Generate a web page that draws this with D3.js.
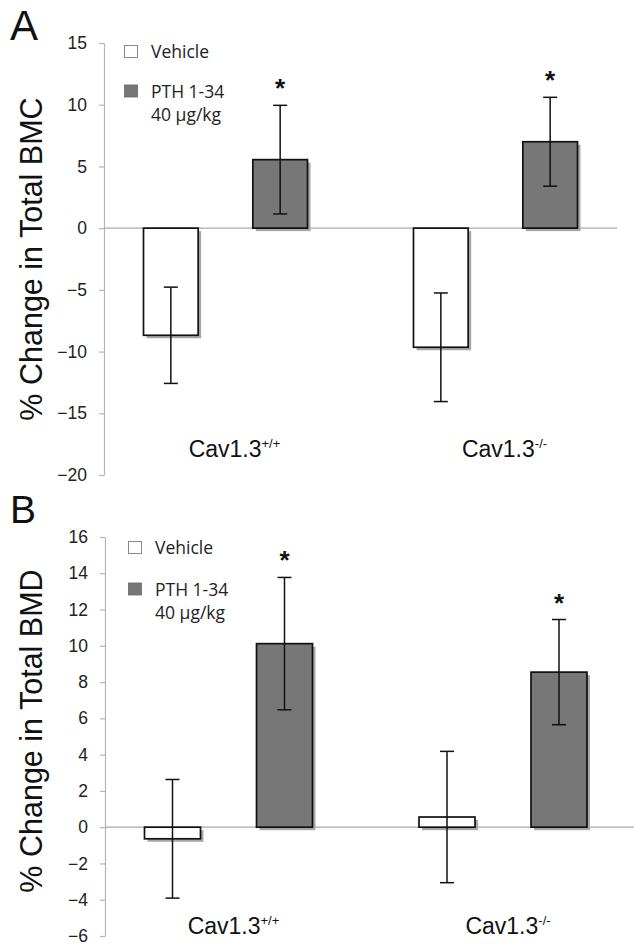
<!DOCTYPE html>
<html>
<head>
<meta charset="utf-8">
<script src="https://cdn.jsdelivr.net/npm/d3@7"></script>
<style>
  html, body { margin: 0; padding: 0; background: #fff; }
  svg { display: block; }
</style>
</head>
<body>
<div id="chart"></div>
<script>
// Groups and series
const groups = ['Cav1.3+/+', 'Cav1.3-/-'];
const groupBase = ['Cav1.3', 'Cav1.3'];
const groupSup = ['+/+', '-/-'];
const series = ['Vehicle', 'PTH'];

// Panel A: % change in total BMC
const bmcVehicle = [-8.68, -9.65];
const bmcVehicleErr = [3.9, 4.4];
const bmcPth = [5.55, 7.0];
const bmcPthErr = [4.4, 3.6];
const bmcTicks = [-20, -15, -10, -5, 0, 5, 10, 15];

// Panel B: % change in total BMD
const bmdVehicle = [-0.64, 0.56];
const bmdVehicleErr = [3.27, 3.62];
const bmdPth = [10.12, 8.55];
const bmdPthErr = [3.65, 2.9];
const bmdTicks = [-6, -4, -2, 0, 2, 4, 6, 8, 10, 12, 14, 16];

// which bars get a significance star
const starred = ['PTH'];

const W = 634, H = 946;
const sans = "'Liberation Sans', Arial, sans-serif";
const legendFont = "'Open Sans', 'Noto Sans', sans-serif";
const darkFill = '#777777';
const shadowFill = '#a8a8a8';

const svg = d3.select('#chart').append('svg')
  .attr('width', W).attr('height', H)
  .attr('viewBox', `0 0 ${W} ${H}`);

function drawPanel(cfg) {
  const g = svg.append('g');

  const y = d3.scaleLinear().domain(d3.extent(cfg.ticks)).range(cfg.yRange);
  const x0 = d3.scaleBand().domain(groups).range(cfg.xRange);
  const x1 = d3.scaleBand().domain(series).range([-cfg.half, cfg.half]).paddingInner(0.5);
  const cx = grp => x0(grp) + x0.bandwidth() / 2;

  const rows = [];
  groups.forEach((grp, i) => {
    rows.push({ grp, s: 'Vehicle', v: cfg.vehicle[i], e: cfg.vehicleErr[i] });
    rows.push({ grp, s: 'PTH', v: cfg.pth[i], e: cfg.pthErr[i] });
  });

  // Panel letter
  g.append('text')
    .attr('x', 10).attr('y', cfg.letterY)
    .attr('font-family', sans).attr('font-size', cfg.letterSize)
    .attr('fill', '#111')
    .text(cfg.letter);

  // Y axis
  g.append('g')
    .attr('transform', `translate(${cfg.axisX},0)`)
    .call(d3.axisLeft(y).tickValues(cfg.ticks).tickSize(5).tickSizeOuter(0).tickPadding(12))
    .call(a => a.select('.domain').attr('stroke', '#b5b5b5').attr('stroke-width', 1.2))
    .call(a => a.selectAll('.tick line').attr('stroke', '#b5b5b5').attr('stroke-width', 1.2))
    .call(a => a.selectAll('.tick text')
      .attr('font-family', sans).attr('font-size', 17.5).attr('fill', '#222'));

  // Y axis title
  g.append('text')
    .attr('transform', `translate(42,${cfg.titleY}) rotate(-90)`)
    .attr('text-anchor', 'middle')
    .attr('font-family', sans).attr('font-size', 30.5)
    .attr('fill', '#111')
    .text(cfg.title);

  // Bar shadows
  g.selectAll('rect.shadow').data(rows).join('rect')
    .attr('class', 'shadow')
    .attr('x', d => cx(d.grp) + x1(d.s) + 3)
    .attr('y', d => Math.min(y(d.v), y(0)) + 3)
    .attr('width', x1.bandwidth())
    .attr('height', d => Math.abs(y(d.v) - y(0)))
    .attr('fill', shadowFill);

  // Zero line
  g.append('line')
    .attr('x1', cfg.axisX).attr('x2', cfg.zeroEnd)
    .attr('y1', y(0)).attr('y2', y(0))
    .attr('stroke', '#a8a8a8').attr('stroke-width', 1.3);

  // Bars
  g.selectAll('rect.bar').data(rows).join('rect')
    .attr('class', 'bar')
    .attr('x', d => cx(d.grp) + x1(d.s))
    .attr('y', d => Math.min(y(d.v), y(0)))
    .attr('width', x1.bandwidth())
    .attr('height', d => Math.abs(y(d.v) - y(0)))
    .attr('fill', d => d.s === 'PTH' ? darkFill : '#fff')
    .attr('stroke', '#111').attr('stroke-width', 1.7);

  // Error bars
  const ex = d => cx(d.grp) + x1(d.s) + x1.bandwidth() / 2;
  const eb = g.selectAll('g.err').data(rows).join('g').attr('class', 'err')
    .attr('stroke', '#111').attr('stroke-width', 1.5);
  eb.append('line')
    .attr('x1', ex).attr('x2', ex)
    .attr('y1', d => y(d.v + d.e)).attr('y2', d => y(d.v - d.e));
  eb.append('line')
    .attr('x1', d => ex(d) - 7).attr('x2', d => ex(d) + 7)
    .attr('y1', d => y(d.v + d.e)).attr('y2', d => y(d.v + d.e));
  eb.append('line')
    .attr('x1', d => ex(d) - 7).attr('x2', d => ex(d) + 7)
    .attr('y1', d => y(d.v - d.e)).attr('y2', d => y(d.v - d.e));

  // Significance stars
  g.selectAll('text.star').data(rows.filter(d => starred.includes(d.s))).join('text')
    .attr('class', 'star')
    .attr('x', ex)
    .attr('y', d => y(d.v + d.e) - 8)
    .attr('text-anchor', 'middle')
    .attr('font-family', sans).attr('font-weight', 'bold').attr('font-size', 26)
    .attr('fill', '#111')
    .text('*');

  // Category labels
  const cat = g.selectAll('text.cat').data(groups).join('text')
    .attr('class', 'cat')
    .attr('x', d => cx(d) + cfg.catShift)
    .attr('y', cfg.catY)
    .attr('text-anchor', 'middle')
    .attr('font-family', sans).attr('font-size', 23)
    .attr('fill', '#111');
  cat.append('tspan').text((d, i) => groupBase[i]);
  cat.append('tspan').attr('dy', -9).attr('font-size', 13).text((d, i) => groupSup[i]);

  // Legend
  const lg = g.append('g').attr('transform', `translate(${cfg.legendX},${cfg.legendY})`)
    .attr('font-family', legendFont).attr('font-size', 17.5).attr('fill', '#222');
  lg.append('rect').attr('x', 0.5).attr('y', 0.5).attr('width', 13).attr('height', 12)
    .attr('fill', '#fff').attr('stroke', '#8a8a8a').attr('stroke-width', 1);
  lg.append('text').attr('x', 27).attr('y', 12.5).text('Vehicle');
  lg.append('rect').attr('x', 0.5).attr('y', cfg.legendGap).attr('width', 13).attr('height', 12)
    .attr('fill', darkFill).attr('stroke', '#666').attr('stroke-width', 0.8);
  lg.append('text').attr('x', 27).attr('y', cfg.legendGap + 12.5).text('PTH 1-34');
  lg.append('text').attr('x', 27).attr('y', cfg.legendGap + 36).text('40 \u03bcg/kg');
}

drawPanel({
  letter: 'A', letterY: 40, letterSize: 42,
  ticks: bmcTicks, yRange: [475, 43],
  xRange: [90.5, 630.5], half: 82,
  axisX: 104, zeroEnd: 617,
  title: '% Change in Total BMC', titleY: 259,
  vehicle: bmcVehicle, vehicleErr: bmcVehicleErr,
  pth: bmcPth, pthErr: bmcPthErr,
  catY: 457, catShift: 9,
  legendX: 124, legendY: 45, legendGap: 40
});

drawPanel({
  letter: 'B', letterY: 523, letterSize: 39,
  ticks: bmdTicks, yRange: [936, 537],
  xRange: [91.25, 640.25], half: 84,
  axisX: 105, zeroEnd: 634,
  title: '% Change in Total BMD', titleY: 731,
  vehicle: bmdVehicle, vehicleErr: bmdVehicleErr,
  pth: bmdPth, pthErr: bmdPthErr,
  catY: 934, catShift: 5,
  legendX: 128, legendY: 541, legendGap: 42
});
</script>
</body>
</html>
